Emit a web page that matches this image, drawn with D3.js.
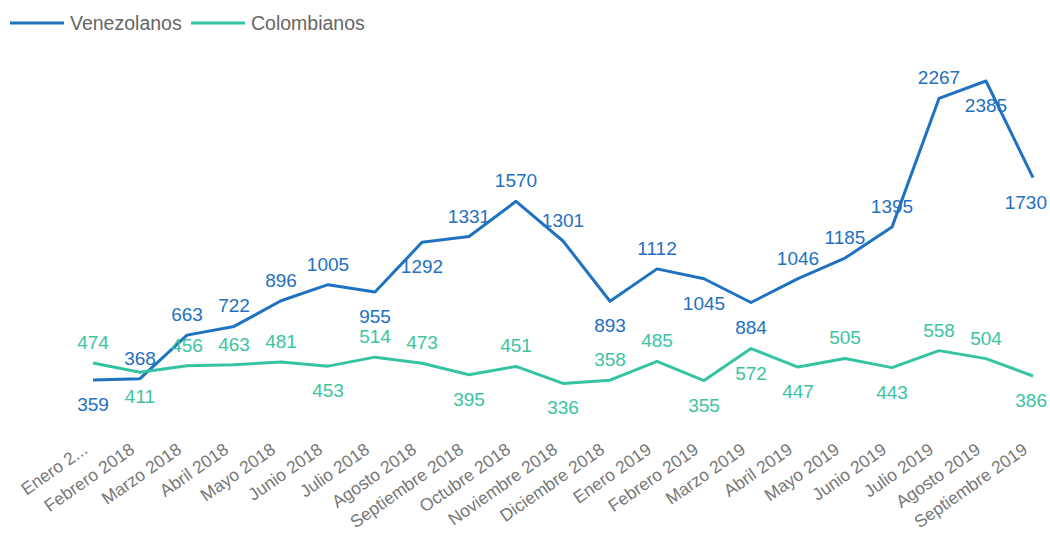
<!DOCTYPE html>
<html>
<head>
<meta charset="utf-8">
<script src="https://cdn.jsdelivr.net/npm/d3@7"></script>
<style>
  body { margin: 0; background: #fff; }
  svg { font-family: "Liberation Sans", Arial, sans-serif; }
</style>
</head>
<body>
<div id="chart"></div>
<script>
// Chart data
var months = ["Enero 2018", "Febrero 2018", "Marzo 2018", "Abril 2018", "Mayo 2018", "Junio 2018",
    "Julio 2018", "Agosto 2018", "Septiembre 2018", "Octubre 2018", "Noviembre 2018", "Diciembre 2018",
    "Enero 2019", "Febrero 2019", "Marzo 2019", "Abril 2019", "Mayo 2019", "Junio 2019",
    "Julio 2019", "Agosto 2019", "Septiembre 2019"];
var venezolanos = [359, 368, 663, 722, 896, 1005, 955, 1292, 1331, 1570, 1301, 893,
    1112, 1045, 884, 1046, 1185, 1395, 2267, 2385, 1730];
var colombianos = [474, 411, 456, 463, 481, 453, 514, 473, 395, 451, 336, 358,
    485, 355, 572, 447, 505, 443, 558, 504, 386];

// label placement (a = above, b = below), kept apart from the values
var venPlace = ["b","a","a","a","a","a","b","b","a","a","a","b","a","b","b","a","a","a","a","b","b"];
var colPlace = ["a","b","a","a","a","b","a","a","b","a","b","a","a","b","b","b","a","b","a","a","b"];

var svgWidth = 1050;
var svgHeight = 533;

var svg = d3.select("#chart")
    .append("svg")
    .attr("width", svgWidth)
    .attr("height", svgHeight);

var xScale = d3.scalePoint()
    .domain(months)
    .range([93, 1033]);

var yScale = d3.scaleLinear()
    .domain([0, 2385])
    .range([433, 81]);

var series = [
    {name: "Venezolanos", values: venezolanos, place: venPlace, color: "#1f72c0", labelColor: "#2470c0"},
    {name: "Colombianos", values: colombianos, place: colPlace, color: "#35c3a4", labelColor: "#3cc4a2"}
];

// x axis, rotated labels
var xAxis = svg.append("g")
    .attr("transform", "translate(0, 433)")
    .call(d3.axisBottom(xScale).tickSize(0).tickFormat(d => d === "Enero 2018" ? "Enero 2..." : d));
xAxis.select(".domain").remove();
xAxis.selectAll("text")
    .attr("fill", "#777")
    .style("font-size", "17.5px")
    .attr("text-anchor", "end")
    .attr("dx", "-15")
    .attr("dy", "13")
    .attr("y", 0)
    .attr("transform", "rotate(-35)");

var line = d3.line()
    .x((d, i) => xScale(months[i]))
    .y(d => yScale(d));

series.forEach(s => {
    svg.append("path")
        .datum(s.values)
        .attr("fill", "none")
        .attr("stroke", s.color)
        .attr("stroke-width", 3)
        .attr("stroke-linejoin", "round")
        .attr("d", line);
});

series.forEach(s => {
    var labels = svg.append("g").selectAll("text")
        .data(s.values)
        .enter()
        .append("text")
        .attr("x", (d, i) => xScale(months[i]))
        .attr("y", (d, i) => yScale(d) + (s.place[i] === "a" ? -14 : 31))
        .attr("text-anchor", "middle")
        .attr("fill", s.labelColor)
        .style("font-size", "19px")
        .text(d => d);
    // keep labels inside the right edge
    labels.each(function() {
        var w = this.getComputedTextLength();
        var x = +d3.select(this).attr("x");
        if (x + w / 2 > svgWidth - 3) d3.select(this).attr("x", svgWidth - 3 - w / 2);
    });
});

// legend
var legend = svg.append("g");
var legendX = [10, 191];
series.forEach((s, i) => {
    legend.append("line")
        .attr("x1", legendX[i]).attr("x2", legendX[i] + 54)
        .attr("y1", 23).attr("y2", 23)
        .attr("stroke", s.color)
        .attr("stroke-width", 3);
    legend.append("text")
        .attr("x", legendX[i] + 60)
        .attr("y", 30)
        .attr("fill", "#666")
        .style("font-size", "19.5px")
        .text(s.name);
});
</script>
</body>
</html>
